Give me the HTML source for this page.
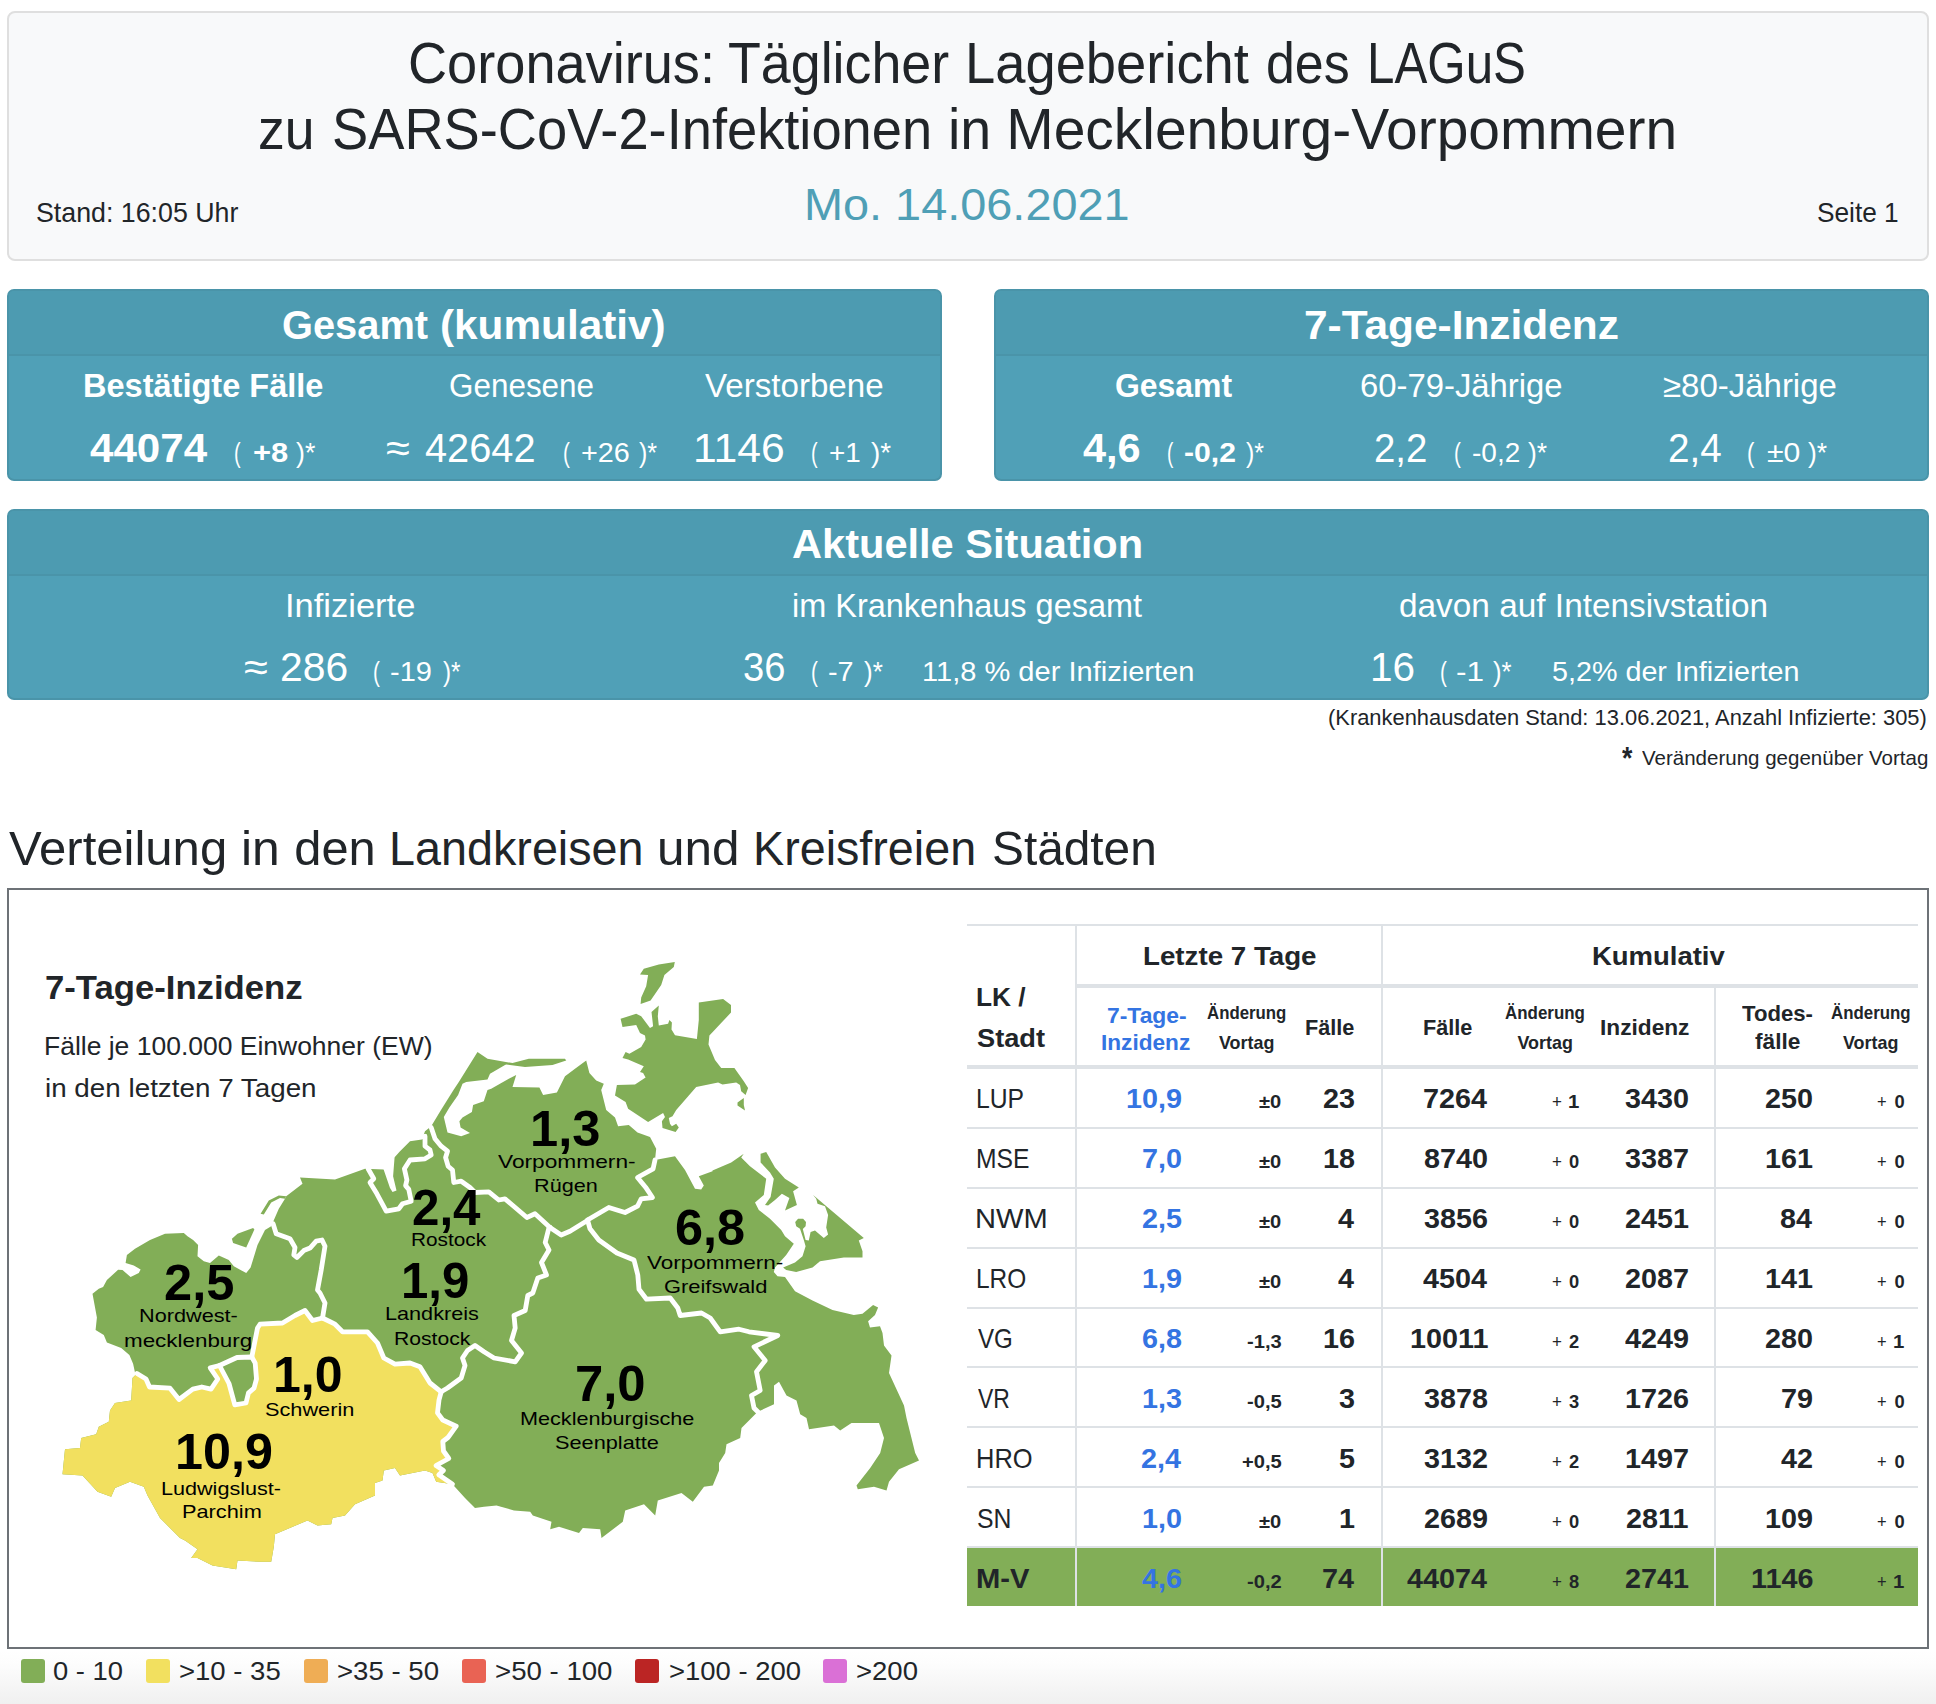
<!DOCTYPE html>
<html lang="de"><head><meta charset="utf-8"><title>Coronavirus: Täglicher Lagebericht des LAGuS</title>
<style>
html,body{margin:0;padding:0;}
body{width:1936px;height:1704px;position:relative;overflow:hidden;background:#fff;font-family:"Liberation Sans",sans-serif;}
.bg{position:absolute;left:0;top:1650px;width:1936px;height:54px;background:linear-gradient(#ffffff 0%,#fdfdfd 25%,#f0f0f0 100%);}
.b{position:absolute;}
.t{position:absolute;white-space:pre;line-height:1;transform-origin:0 0;}
.map{position:absolute;left:0;top:0;}
</style></head><body>
<div class="bg"></div>
<div class="b" style="left:7px;top:11px;width:1922px;height:250px;background:#f8f9fa;border:2px solid #dfdfdf;border-radius:8px;box-sizing:border-box;"></div>
<div class="b" style="left:7px;top:288.5px;width:935px;height:192.0px;background:#50a0b7;border:2px solid #4a94a9;border-radius:7px;box-sizing:border-box;overflow:hidden;"></div>
<div class="b" style="left:9px;top:290.5px;width:931px;height:65.5px;background:#4d9bb1;border-bottom:2px solid #4a94a9;border-radius:5px 5px 0 0;box-sizing:border-box;"></div>
<div class="b" style="left:993.5px;top:288.5px;width:935.5px;height:192.0px;background:#50a0b7;border:2px solid #4a94a9;border-radius:7px;box-sizing:border-box;overflow:hidden;"></div>
<div class="b" style="left:995.5px;top:290.5px;width:931.5px;height:65.5px;background:#4d9bb1;border-bottom:2px solid #4a94a9;border-radius:5px 5px 0 0;box-sizing:border-box;"></div>
<div class="b" style="left:7px;top:508.5px;width:1922px;height:191.0px;background:#50a0b7;border:2px solid #4a94a9;border-radius:7px;box-sizing:border-box;overflow:hidden;"></div>
<div class="b" style="left:9px;top:510.5px;width:1918px;height:65.0px;background:#4d9bb1;border-bottom:2px solid #4a94a9;border-radius:5px 5px 0 0;box-sizing:border-box;"></div>
<div class="b" style="left:7px;top:888px;width:1922px;height:760.5px;background:#fff;border:2px solid #6d7277;box-sizing:border-box;"></div>
<div class="b" style="left:967px;top:1547px;width:950.5px;height:58.5px;background:#82ae57;"></div>
<div class="b" style="left:967px;top:924px;width:950.5px;height:2px;background:#dee2e6;"></div>
<div class="b" style="left:1076px;top:984px;width:841.5px;height:4px;background:#dee2e6;"></div>
<div class="b" style="left:967px;top:1065px;width:950.5px;height:4px;background:#dee2e6;"></div>
<div class="b" style="left:967px;top:1126.5px;width:950.5px;height:2px;background:#dee2e6;"></div>
<div class="b" style="left:967px;top:1186.5px;width:950.5px;height:2px;background:#dee2e6;"></div>
<div class="b" style="left:967px;top:1246.5px;width:950.5px;height:2px;background:#dee2e6;"></div>
<div class="b" style="left:967px;top:1306.5px;width:950.5px;height:2px;background:#dee2e6;"></div>
<div class="b" style="left:967px;top:1366px;width:950.5px;height:2px;background:#dee2e6;"></div>
<div class="b" style="left:967px;top:1426px;width:950.5px;height:2px;background:#dee2e6;"></div>
<div class="b" style="left:967px;top:1486px;width:950.5px;height:2px;background:#dee2e6;"></div>
<div class="b" style="left:967px;top:1546px;width:950.5px;height:2px;background:#dee2e6;"></div>
<div class="b" style="left:1075px;top:925px;width:2px;height:680.5px;background:#dee2e6;"></div>
<div class="b" style="left:1381px;top:925px;width:2px;height:680.5px;background:#dee2e6;"></div>
<div class="b" style="left:1714px;top:986px;width:2px;height:619.5px;background:#dee2e6;"></div>
<div class="b" style="left:21.25px;top:1659px;width:24px;height:24px;background:#82ae57;border-radius:3px;"></div>
<div class="b" style="left:145.5px;top:1659px;width:24px;height:24px;background:#f2e05f;border-radius:3px;"></div>
<div class="b" style="left:303.75px;top:1659px;width:24px;height:24px;background:#efad55;border-radius:3px;"></div>
<div class="b" style="left:462px;top:1659px;width:24px;height:24px;background:#e96354;border-radius:3px;"></div>
<div class="b" style="left:635.25px;top:1659px;width:24px;height:24px;background:#bb2524;border-radius:3px;"></div>
<div class="b" style="left:822.75px;top:1659px;width:24px;height:24px;background:#da70d6;border-radius:3px;"></div>
<svg class="map" width="1936" height="1704" viewBox="0 0 1936 1704">
<polygon fill="#82ae57" points="135.0,1372.5 133.1,1363.8 129.4,1355.0 121.2,1348.1 106.9,1342.5 103.8,1335.0 95.6,1330.0 96.9,1317.5 92.5,1293.8 98.8,1288.8 103.1,1286.9 106.9,1280.0 118.1,1269.8 122.5,1270.0 130.6,1276.9 138.8,1273.1 140.6,1269.4 133.8,1265.6 125.6,1263.1 126.9,1255.0 135.0,1248.8 150.0,1240.0 165.0,1233.8 183.8,1233.1 187.5,1236.2 193.1,1240.0 198.1,1245.0 197.5,1256.2 203.8,1261.2 210.0,1263.1 218.8,1255.6 228.8,1260.0 233.8,1266.2 246.2,1273.1 250.6,1267.5 257.5,1245.0 265.0,1230.0 271.2,1226.2 278.8,1208.8 285.0,1198.8 286.2,1196.2 302.5,1183.8 300.0,1177.5 335.0,1179.4 365.0,1168.8 383.8,1169.4 394.4,1157.5 400.0,1151.2 410.0,1141.2 421.9,1139.4 425.0,1131.2 431.2,1126.2 441.0,1110.0 453.5,1090.0 458.8,1081.9 477.5,1051.9 487.5,1058.8 512.5,1063.1 528.8,1058.8 565.0,1058.8 566.2,1060.6 586.2,1060.6 589.4,1073.1 596.2,1080.6 603.8,1083.8 601.2,1090.0 606.2,1110.0 615.0,1117.5 618.1,1126.2 628.8,1125.0 637.5,1132.5 650.0,1136.9 656.2,1148.8 655.0,1160.0 675.0,1156.2 685.0,1170.0 695.0,1188.8 701.2,1189.4 703.8,1185.6 698.8,1176.2 712.5,1171.2 712.5,1170.6 731.2,1162.5 743.8,1153.8 741.2,1157.5 750.0,1166.2 766.2,1178.8 763.8,1195.0 755.0,1202.5 758.8,1210.0 770.0,1218.8 781.2,1230.0 785.0,1236.2 793.8,1243.8 786.2,1255.0 775.0,1267.5 773.8,1271.9 777.5,1276.2 785.0,1276.9 795.0,1291.2 812.5,1300.6 832.5,1310.0 853.8,1315.0 862.5,1313.8 873.1,1305.0 878.1,1307.5 875.0,1315.0 868.1,1321.2 870.0,1327.5 880.0,1326.2 882.5,1333.0 884.0,1345.5 891.5,1355.5 889.0,1373.0 904.0,1405.5 906.5,1418.0 915.2,1453.0 919.0,1460.5 899.0,1469.2 889.0,1481.8 886.5,1490.5 874.0,1486.8 857.8,1489.2 856.5,1485.5 870.2,1468.0 880.2,1453.0 884.0,1438.0 879.0,1423.0 851.5,1423.0 840.2,1430.5 834.0,1425.5 809.0,1429.2 806.5,1418.0 800.2,1414.2 796.5,1400.5 786.5,1395.5 779.0,1381.8 774.0,1385.5 774.0,1404.2 757.8,1411.8 755.2,1414.2 741.5,1428.0 740.2,1438.0 726.5,1444.2 725.2,1453.0 719.0,1463.0 719.0,1470.5 712.8,1485.5 704.0,1486.8 692.8,1501.8 681.5,1493.0 657.8,1500.5 655.2,1515.5 644.0,1504.2 625.2,1510.5 622.8,1521.8 601.5,1538.0 600.2,1529.2 582.8,1528.0 579.0,1533.0 559.0,1526.8 550.2,1529.2 551.5,1521.8 532.8,1515.5 530.2,1511.8 514.0,1510.5 496.5,1505.5 484.0,1506.8 475.0,1508.0 465.0,1498.0 452.5,1484.2 436.2,1481.8 432.5,1473.0 425.0,1470.5 400.0,1475.5 395.0,1468.0 383.8,1470.5 382.5,1480.5 375.0,1483.0 375.0,1495.5 355.0,1504.2 345.0,1515.5 332.5,1518.0 331.2,1524.2 317.5,1525.5 307.5,1520.5 275.0,1534.2 273.8,1546.8 271.2,1561.8 261.2,1561.8 237.5,1560.5 236.2,1569.2 212.5,1565.5 197.5,1558.0 191.2,1558.0 197.5,1549.2 185.0,1540.5 180.0,1538.0 160.0,1518.0 147.5,1495.5 143.8,1486.8 130.0,1481.8 115.0,1488.0 111.2,1496.8 97.5,1491.8 82.5,1475.5 62.5,1474.2 65.0,1449.2 80.0,1448.0 81.2,1438.0 96.2,1434.2 98.8,1426.8 108.8,1421.8 110.0,1410.5 115.0,1403.0 131.2,1400.5 132.5,1378.0 136.2,1374.2"/>
<polygon fill="#f2e05f" points="137.0,1373.5 146.0,1379.0 149.5,1387.0 170.0,1388.2 179.0,1399.5 192.8,1389.2 201.8,1387.0 211.0,1389.2 217.8,1379.0 210.2,1367.8 219.5,1365.5 229.0,1383.5 234.8,1404.8 246.0,1403.0 248.5,1392.8 254.0,1388.2 256.5,1379.0 255.2,1363.2 251.8,1357.0 257.5,1328.0 260.0,1324.2 282.5,1323.0 295.0,1315.5 305.0,1310.5 312.5,1320.5 322.5,1318.0 335.0,1324.2 342.5,1331.8 367.5,1331.8 377.5,1343.0 383.8,1358.0 395.0,1364.2 410.0,1363.0 420.0,1366.8 430.0,1383.0 441.2,1391.8 439.0,1400.0 437.5,1412.8 442.8,1420.0 456.2,1426.2 448.0,1437.5 442.8,1441.5 443.5,1451.0 448.8,1458.5 436.0,1465.5 443.5,1470.5 438.8,1474.8 450.0,1482.5 452.5,1484.2 436.2,1481.8 432.5,1473.0 425.0,1470.5 400.0,1475.5 395.0,1468.0 383.8,1470.5 382.5,1480.5 375.0,1483.0 375.0,1495.5 355.0,1504.2 345.0,1515.5 332.5,1518.0 331.2,1524.2 317.5,1525.5 307.5,1520.5 275.0,1534.2 273.8,1546.8 271.2,1561.8 261.2,1561.8 237.5,1560.5 236.2,1569.2 212.5,1565.5 197.5,1558.0 191.2,1558.0 197.5,1549.2 185.0,1540.5 180.0,1538.0 160.0,1518.0 147.5,1495.5 143.8,1486.8 130.0,1481.8 115.0,1488.0 111.2,1496.8 97.5,1491.8 82.5,1475.5 62.5,1474.2 65.0,1449.2 80.0,1448.0 81.2,1438.0 96.2,1434.2 98.8,1426.8 108.8,1421.8 110.0,1410.5 115.0,1403.0 131.2,1400.5 132.5,1378.0 136.2,1374.2"/>
<polygon fill="#fff" points="383.1,1168.1 390.0,1188.1 392.5,1191.9 396.5,1190.6 393.1,1176.2 394.6,1156.9 387.5,1163.1"/>
<polygon fill="#fff" points="443.8,1116.9 449.4,1107.5 458.1,1095.0 462.5,1083.8 466.2,1081.9 487.5,1079.4 490.0,1073.8 505.0,1065.0 506.2,1064.4 525.0,1066.9 552.5,1065.0 566.2,1060.6 566.2,1056.9 586.2,1056.9 586.2,1060.6 575.0,1068.8 565.0,1076.2 556.9,1092.5 543.1,1095.0 539.4,1087.5 512.5,1086.9 516.2,1075.0 508.8,1078.8 491.2,1088.8 487.5,1090.0 483.8,1101.2 473.1,1105.0 471.9,1111.9 462.5,1117.5 459.4,1121.2 460.6,1127.5 470.0,1133.1 461.2,1136.2 447.5,1132.5"/>
<polygon fill="#82ae57" points="231.9,1238.8 237.5,1233.8 253.1,1228.1 254.4,1229.4 246.2,1247.5 233.1,1243.1"/>
<polygon fill="#82ae57" points="260.6,1213.8 268.8,1200.6 278.8,1195.6 286.2,1196.2 285.0,1198.8 280.0,1198.1 271.2,1202.5 263.8,1214.4"/>
<polygon fill="#82ae57" points="640.0,974.4 643.8,968.8 658.8,964.4 674.8,961.9 673.8,966.9 664.4,975.0 661.2,985.0 650.6,1000.6 640.6,1004.0 641.2,997.5 646.2,986.2 648.1,975.0"/>
<polygon fill="#82ae57" points="620.6,1018.8 636.2,1013.8 641.2,1016.2 650.0,1028.1 653.1,1026.2 651.5,1011.9 658.8,1005.6 657.8,1016.2 658.8,1025.6 668.1,1023.8 669.4,1020.0 671.9,1022.5 671.5,1029.4 675.0,1035.2 696.9,1039.0 698.8,1020.0 698.8,1002.5 723.1,999.0 731.0,1005.0 731.0,1012.5 709.4,1035.6 708.5,1044.4 715.0,1060.0 721.2,1068.1 734.4,1068.1 743.8,1081.2 748.1,1088.1 745.6,1095.0 741.2,1091.2 740.0,1085.0 736.2,1082.5 722.5,1084.4 718.1,1082.5 696.2,1086.9 676.2,1110.0 672.5,1116.2 668.8,1118.1 670.0,1123.8 671.9,1126.2 676.2,1123.8 678.8,1127.5 675.6,1131.9 662.5,1128.1 661.9,1121.2 665.0,1116.9 663.1,1113.1 648.1,1121.9 628.1,1108.8 625.6,1101.9 615.0,1095.6 616.9,1085.0 635.0,1084.4 645.6,1077.5 643.1,1073.1 640.0,1071.9 643.8,1066.2 628.1,1059.4 622.5,1058.1 625.6,1051.9 629.4,1053.8 641.2,1046.9 645.6,1039.4 645.0,1035.6 640.0,1033.1 636.2,1025.0 622.5,1026.9"/>
<polygon fill="#82ae57" points="737.5,1102.5 743.8,1098.1 743.8,1105.0 745.0,1110.6 737.5,1105.6"/>
<polygon fill="#82ae57" points="760.6,1153.8 766.2,1151.9 775.0,1167.5 785.0,1178.8 798.8,1187.5 793.1,1191.2 796.9,1205.0 785.0,1210.6 789.4,1198.1 781.9,1193.8 775.0,1200.0 768.1,1205.6 765.0,1205.0 770.6,1196.9 773.8,1178.8 770.0,1172.5 760.6,1162.5"/>
<polygon fill="#82ae57" points="813.1,1195.0 863.8,1238.1 858.8,1240.6 862.5,1251.2 862.5,1257.5 843.8,1257.5 820.0,1261.2 812.5,1267.5 796.2,1271.9 786.2,1270.0 783.1,1267.5 795.0,1262.5 802.5,1256.2 805.6,1246.2 803.8,1240.0 800.0,1228.8 796.2,1226.2 795.2,1221.9 798.1,1218.8 803.1,1218.8 806.0,1221.9 805.6,1226.2 802.8,1229.0 805.6,1240.0 808.8,1240.6 810.6,1231.9 815.0,1230.6 823.8,1238.1 828.1,1234.4 826.2,1227.5 828.1,1215.0 825.0,1206.2 817.5,1203.8 816.2,1198.8"/>
<polyline fill="none" stroke="#fff" stroke-width="4.8" stroke-linejoin="round" stroke-linecap="round" points="137.0,1373.5 146.0,1379.0 149.5,1387.0 170.0,1388.2 179.0,1399.5 192.8,1389.2 201.8,1387.0 211.0,1389.2 217.8,1379.0 210.2,1367.8 219.5,1365.5"/>
<polyline fill="none" stroke="#fff" stroke-width="4.8" stroke-linejoin="round" stroke-linecap="round" points="219.5,1365.5 237.0,1357.5 251.8,1357.0 255.2,1363.2 256.5,1379.0 254.0,1388.2 248.5,1392.8 246.0,1403.0 234.8,1404.8 229.0,1383.5 219.5,1365.5"/>
<polyline fill="none" stroke="#fff" stroke-width="4.8" stroke-linejoin="round" stroke-linecap="round" points="251.8,1357.0 257.5,1328.0 260.0,1324.2 282.5,1323.0 295.0,1315.5 305.0,1310.5 312.5,1320.5 322.5,1318.0"/>
<polyline fill="none" stroke="#fff" stroke-width="4.8" stroke-linejoin="round" stroke-linecap="round" points="322.5,1318.0 335.0,1324.2 342.5,1331.8 367.5,1331.8 377.5,1343.0 383.8,1358.0 395.0,1364.2 410.0,1363.0 420.0,1366.8 430.0,1383.0 441.2,1391.8"/>
<polyline fill="none" stroke="#fff" stroke-width="4.8" stroke-linejoin="round" stroke-linecap="round" points="441.2,1391.8 439.0,1400.0 437.5,1412.8 442.8,1420.0 456.2,1426.2 448.0,1437.5 442.8,1441.5 443.5,1451.0 448.8,1458.5 436.0,1465.5 443.5,1470.5 438.8,1474.8 450.0,1482.5 452.5,1484.2"/>
<polyline fill="none" stroke="#fff" stroke-width="4.8" stroke-linejoin="round" stroke-linecap="round" points="273.1,1223.8 276.2,1233.8 290.0,1238.8 295.0,1247.5 293.8,1255.0 296.9,1257.5 303.8,1250.6 310.0,1248.1 316.2,1241.2 322.0,1240.0 325.0,1246.2 321.2,1270.0 317.5,1290.0 320.0,1293.0 325.0,1303.0 322.5,1318.0"/>
<polyline fill="none" stroke="#fff" stroke-width="4.8" stroke-linejoin="round" stroke-linecap="round" points="441.2,1391.8 447.5,1388.0 461.2,1378.0 465.0,1365.5 462.5,1358.0 467.5,1350.5 475.0,1345.5 484.0,1351.8 494.0,1358.0 515.2,1361.8 521.5,1353.0 511.5,1340.5 515.2,1328.0 514.0,1315.5 525.2,1310.5 527.8,1295.5 532.8,1293.0 537.8,1278.0 546.5,1275.0 541.5,1262.5 549.0,1250.0 545.2,1242.5 549.0,1227.5 550.0,1227.5"/>
<polyline fill="none" stroke="#fff" stroke-width="4.8" stroke-linejoin="round" stroke-linecap="round" points="431.2,1127.5 435.0,1138.8 441.2,1146.2 447.5,1151.2 445.6,1157.5 448.1,1166.2 452.5,1170.0 453.8,1182.5 461.2,1181.2 470.0,1187.5 475.0,1192.5 488.8,1191.9 498.8,1200.0 505.0,1198.8 526.9,1217.5 535.0,1213.8 550.0,1227.5"/>
<polyline fill="none" stroke="#fff" stroke-width="4.8" stroke-linejoin="round" stroke-linecap="round" points="550.0,1227.5 561.2,1235.0 570.0,1231.2 586.2,1221.2"/>
<polyline fill="none" stroke="#fff" stroke-width="4.8" stroke-linejoin="round" stroke-linecap="round" points="655.0,1160.0 653.1,1168.8 637.5,1177.5 646.2,1188.1 652.5,1197.5 641.2,1198.8 637.5,1206.2 625.0,1212.5 608.8,1207.5 587.5,1220.0"/>
<polyline fill="none" stroke="#fff" stroke-width="4.8" stroke-linejoin="round" stroke-linecap="round" points="587.5,1220.0 590.0,1228.8 598.8,1240.0 616.9,1253.0 634.0,1260.0 637.8,1275.0 639.0,1289.2 646.5,1299.2 670.2,1298.0 677.8,1308.0 680.2,1315.5 701.5,1313.0 710.2,1318.0 720.2,1331.8 739.0,1329.2 749.0,1331.8 777.8,1335.5 754.0,1346.8 765.2,1360.5 756.5,1371.8 760.2,1390.5 751.5,1395.5 754.0,1408.0 757.8,1411.8"/>
<polyline fill="none" stroke="#fff" stroke-width="4.8" stroke-linejoin="round" stroke-linecap="round" points="368.1,1168.8 373.8,1178.8 370.0,1182.5 376.9,1193.8 386.2,1211.2 398.8,1208.8 402.5,1203.8 411.2,1201.2 408.8,1189.4 405.6,1185.6 406.9,1180.0 404.4,1168.8 410.0,1160.0 425.0,1158.8 431.2,1155.0 430.0,1150.0 425.0,1146.2 425.0,1136.2 422.5,1136.9"/>
</svg>
<span class="t" style="left:408.10px;top:35.29px;font-size:56.95px;color:#212529;transform:scaleX(0.9511);">Coronavirus: </span>
<span class="t" style="left:727.81px;top:35.29px;font-size:56.95px;color:#212529;transform:scaleX(0.9444);">Täglicher </span>
<span class="t" style="left:965.18px;top:35.29px;font-size:56.95px;color:#212529;transform:scaleX(0.9541);">Lagebericht </span>
<span class="t" style="left:1266.18px;top:35.29px;font-size:56.95px;color:#212529;transform:scaleX(0.9113);">des </span>
<span class="t" style="left:1367.04px;top:35.29px;font-size:56.95px;color:#212529;transform:scaleX(0.8657);">LAGuS</span>
<span class="t" style="left:258.12px;top:101.29px;font-size:56.95px;color:#212529;transform:scaleX(0.9409);">zu </span>
<span class="t" style="left:331.84px;top:101.29px;font-size:56.95px;color:#212529;transform:scaleX(0.9529);">SARS-CoV-2-Infektionen </span>
<span class="t" style="left:948.07px;top:101.29px;font-size:56.95px;color:#212529;transform:scaleX(0.9761);">in </span>
<span class="t" style="left:1006.25px;top:101.29px;font-size:56.95px;color:#212529;">Mecklenburg-Vorpommern</span>
<span class="t" style="left:804.36px;top:182.12px;font-size:44.75px;color:#4f9fb6;transform:scaleX(1.0470);">Mo. 14.06.2021</span>
<span class="t" style="left:36.06px;top:197.89px;font-size:28.48px;color:#212529;transform:scaleX(0.9403);">Stand: 16:05 Uhr</span>
<span class="t" style="left:1817.08px;top:197.89px;font-size:28.48px;color:#212529;transform:scaleX(0.9217);">Seite 1</span>
<span class="t" style="left:281.52px;top:305.06px;font-size:40.68px;color:#ffffff;font-weight:700;transform:scaleX(0.9787);">Gesamt </span>
<span class="t" style="left:440.42px;top:305.06px;font-size:40.68px;color:#ffffff;font-weight:700;transform:scaleX(1.0403);">(kumulativ)</span>
<span class="t" style="left:83.00px;top:370.45px;font-size:32.54px;color:#ffffff;font-weight:700;">Bestätigte Fälle</span>
<span class="t" style="left:449.03px;top:370.45px;font-size:32.54px;color:#ffffff;transform:scaleX(0.9660);">Genesene</span>
<span class="t" style="left:704.50px;top:370.45px;font-size:32.54px;color:#ffffff;transform:scaleX(1.0182);">Verstorbene</span>
<span class="t" style="left:89.50px;top:428.06px;font-size:40.68px;color:#ffffff;font-weight:700;transform:scaleX(1.0354);">44074</span>
<span class="t" style="left:234.31px;top:438.39px;font-size:28.48px;color:#ffffff;transform:scaleX(0.6944);">(</span>
<span class="t" style="left:252.66px;top:438.39px;font-size:28.48px;color:#ffffff;font-weight:700;transform:scaleX(1.0857);">+8</span>
<span class="t" style="left:296.25px;top:438.39px;font-size:28.48px;color:#ffffff;transform:scaleX(0.9399);">)*</span>
<span class="t" style="left:386.43px;top:428.06px;font-size:40.68px;color:#ffffff;transform:scaleX(1.0714);">≈</span>
<span class="t" style="left:425.00px;top:428.06px;font-size:40.68px;color:#ffffff;transform:scaleX(0.9778);">42642</span>
<span class="t" style="left:562.78px;top:438.39px;font-size:28.48px;color:#ffffff;transform:scaleX(0.7222);">(</span>
<span class="t" style="left:580.99px;top:438.39px;font-size:28.48px;color:#ffffff;transform:scaleX(1.0117);">+26</span>
<span class="t" style="left:639.00px;top:438.39px;font-size:28.48px;color:#ffffff;transform:scaleX(0.8789);">)*</span>
<span class="t" style="left:693.35px;top:428.06px;font-size:40.68px;color:#ffffff;transform:scaleX(1.0502);">1146</span>
<span class="t" style="left:810.81px;top:438.39px;font-size:28.48px;color:#ffffff;transform:scaleX(0.6944);">(</span>
<span class="t" style="left:829.02px;top:438.39px;font-size:28.48px;color:#ffffff;transform:scaleX(0.9796);">+1</span>
<span class="t" style="left:871.00px;top:438.39px;font-size:28.48px;color:#ffffff;transform:scaleX(0.9765);">)*</span>
<span class="t" style="left:1304.46px;top:305.06px;font-size:40.68px;color:#ffffff;font-weight:700;transform:scaleX(1.0427);">7-Tage-Inzidenz</span>
<span class="t" style="left:1114.52px;top:370.45px;font-size:32.54px;color:#ffffff;font-weight:700;transform:scaleX(0.9810);">Gesamt</span>
<span class="t" style="left:1359.99px;top:370.45px;font-size:32.54px;color:#ffffff;transform:scaleX(1.0094);">60-79-Jährige</span>
<span class="t" style="left:1662.99px;top:370.45px;font-size:32.54px;color:#ffffff;transform:scaleX(1.0134);">≥80-Jährige</span>
<span class="t" style="left:1083.00px;top:428.06px;font-size:40.68px;color:#ffffff;font-weight:700;transform:scaleX(1.0193);">4,6</span>
<span class="t" style="left:1166.83px;top:438.39px;font-size:28.48px;color:#ffffff;transform:scaleX(0.6667);">(</span>
<span class="t" style="left:1183.94px;top:438.39px;font-size:28.48px;color:#ffffff;font-weight:700;transform:scaleX(1.0588);">-0,2</span>
<span class="t" style="left:1245.50px;top:438.39px;font-size:28.48px;color:#ffffff;transform:scaleX(0.8789);">)*</span>
<span class="t" style="left:1373.61px;top:428.06px;font-size:40.68px;color:#ffffff;transform:scaleX(0.9448);">2,2</span>
<span class="t" style="left:1453.78px;top:438.39px;font-size:28.48px;color:#ffffff;transform:scaleX(0.7222);">(</span>
<span class="t" style="left:1472.02px;top:438.39px;font-size:28.48px;color:#ffffff;transform:scaleX(0.9847);">-0,2</span>
<span class="t" style="left:1528.00px;top:438.39px;font-size:28.48px;color:#ffffff;transform:scaleX(0.9277);">)*</span>
<span class="t" style="left:1667.60px;top:428.06px;font-size:40.68px;color:#ffffff;transform:scaleX(0.9505);">2,4</span>
<span class="t" style="left:1747.22px;top:438.39px;font-size:28.48px;color:#ffffff;transform:scaleX(0.7778);">(</span>
<span class="t" style="left:1767.00px;top:438.39px;font-size:28.48px;color:#ffffff;transform:scaleX(1.0612);">±0</span>
<span class="t" style="left:1808.00px;top:438.39px;font-size:28.48px;color:#ffffff;transform:scaleX(0.9277);">)*</span>
<span class="t" style="left:792.48px;top:524.31px;font-size:40.68px;color:#ffffff;font-weight:700;transform:scaleX(1.0223);">Aktuelle Situation</span>
<span class="t" style="left:284.82px;top:589.95px;font-size:32.54px;color:#ffffff;transform:scaleX(1.0601);">Infizierte</span>
<span class="t" style="left:792.00px;top:589.95px;font-size:32.54px;color:#ffffff;transform:scaleX(0.9978);">im Krankenhaus gesamt</span>
<span class="t" style="left:1399.47px;top:589.95px;font-size:32.54px;color:#ffffff;transform:scaleX(1.0258);">davon auf Intensivstation</span>
<span class="t" style="left:243.93px;top:646.56px;font-size:40.68px;color:#ffffff;transform:scaleX(1.0714);">≈</span>
<span class="t" style="left:280.49px;top:646.56px;font-size:40.68px;color:#ffffff;transform:scaleX(1.0041);">286</span>
<span class="t" style="left:373.28px;top:656.89px;font-size:28.48px;color:#ffffff;transform:scaleX(0.7222);">(</span>
<span class="t" style="left:389.98px;top:656.89px;font-size:28.48px;color:#ffffff;transform:scaleX(1.0175);">-19</span>
<span class="t" style="left:442.50px;top:656.89px;font-size:28.48px;color:#ffffff;transform:scaleX(0.8545);">)*</span>
<span class="t" style="left:743.06px;top:646.56px;font-size:40.68px;color:#ffffff;transform:scaleX(0.9385);">36</span>
<span class="t" style="left:811.28px;top:656.89px;font-size:28.48px;color:#ffffff;transform:scaleX(0.7222);">(</span>
<span class="t" style="left:827.99px;top:656.89px;font-size:28.48px;color:#ffffff;transform:scaleX(1.0115);">-7</span>
<span class="t" style="left:864.00px;top:656.89px;font-size:28.48px;color:#ffffff;transform:scaleX(0.9155);">)*</span>
<span class="t" style="left:922.46px;top:656.89px;font-size:28.48px;color:#ffffff;transform:scaleX(1.0206);">11,8 % der Infizierten</span>
<span class="t" style="left:1369.51px;top:646.56px;font-size:40.68px;color:#ffffff;transform:scaleX(0.9971);">16</span>
<span class="t" style="left:1439.78px;top:656.89px;font-size:28.48px;color:#ffffff;transform:scaleX(0.7222);">(</span>
<span class="t" style="left:1455.89px;top:656.89px;font-size:28.48px;color:#ffffff;transform:scaleX(1.1073);">-1</span>
<span class="t" style="left:1493.00px;top:656.89px;font-size:28.48px;color:#ffffff;transform:scaleX(0.9033);">)*</span>
<span class="t" style="left:1551.99px;top:656.89px;font-size:28.48px;color:#ffffff;transform:scaleX(1.0085);">5,2% der Infizierten</span>
<span class="t" style="left:1327.54px;top:706.22px;font-size:22.78px;color:#212529;transform:scaleX(0.9616);">(Krankenhausdaten Stand: 13.06.2021, Anzahl Infizierte: 305)</span>
<span class="t" style="left:1622.00px;top:743.17px;font-size:30.51px;color:#212529;font-weight:700;transform:scaleX(0.8750);">*</span>
<span class="t" style="left:1642.00px;top:747.78px;font-size:20.34px;color:#212529;transform:scaleX(1.0092);">Veränderung gegenüber Vortag</span>
<span class="t" style="left:8.75px;top:823.67px;font-size:48.82px;color:#212529;transform:scaleX(1.0049);">Verteilung </span>
<span class="t" style="left:240.69px;top:823.67px;font-size:48.82px;color:#212529;transform:scaleX(1.0206);">in </span>
<span class="t" style="left:294.25px;top:823.67px;font-size:48.82px;color:#212529;">den </span>
<span class="t" style="left:388.67px;top:823.67px;font-size:48.82px;color:#212529;transform:scaleX(0.9573);">Landkreisen </span>
<span class="t" style="left:656.71px;top:823.67px;font-size:48.82px;color:#212529;transform:scaleX(1.0127);">und </span>
<span class="t" style="left:753.43px;top:823.67px;font-size:48.82px;color:#212529;transform:scaleX(0.9562);">Kreisfreien </span>
<span class="t" style="left:991.79px;top:823.67px;font-size:48.82px;color:#212529;transform:scaleX(0.9793);">Städten</span>
<span class="t" style="left:45.18px;top:972.45px;font-size:32.54px;color:#212529;font-weight:700;transform:scaleX(1.0663);">7-Tage-Inzidenz</span>
<span class="t" style="left:44.12px;top:1034.41px;font-size:24.92px;color:#212529;transform:scaleX(1.0630);">Fälle je 100.000 Einwohner (EW)</span>
<span class="t" style="left:45.13px;top:1075.91px;font-size:24.92px;color:#212529;transform:scaleX(1.1164);">in den letzten 7 Tagen</span>
<span class="t" style="left:975.76px;top:983.62px;font-size:26.44px;color:#212529;font-weight:700;transform:scaleX(0.9932);">LK /</span>
<span class="t" style="left:976.75px;top:1024.62px;font-size:26.44px;color:#212529;font-weight:700;transform:scaleX(1.0296);">Stadt</span>
<span class="t" style="left:1142.70px;top:943.12px;font-size:26.44px;color:#212529;font-weight:700;transform:scaleX(1.0484);">Letzte 7 Tage</span>
<span class="t" style="left:1591.96px;top:943.12px;font-size:26.44px;color:#212529;font-weight:700;transform:scaleX(1.0386);">Kumulativ</span>
<span class="t" style="left:1106.75px;top:1004.81px;font-size:22.37px;color:#3474e2;font-weight:700;transform:scaleX(1.0238);">7-Tage-</span>
<span class="t" style="left:1101.49px;top:1032.06px;font-size:22.37px;color:#3474e2;font-weight:700;transform:scaleX(1.0113);">Inzidenz</span>
<span class="t" style="left:1207.00px;top:1004.85px;font-size:17.9px;color:#212529;font-weight:700;transform:scaleX(0.9396);">Änderung</span>
<span class="t" style="left:1219.00px;top:1034.85px;font-size:17.9px;color:#212529;font-weight:700;">Vortag</span>
<span class="t" style="left:1505.00px;top:1004.85px;font-size:17.9px;color:#212529;font-weight:700;transform:scaleX(0.9456);">Änderung</span>
<span class="t" style="left:1517.50px;top:1034.85px;font-size:17.9px;color:#212529;font-weight:700;">Vortag</span>
<span class="t" style="left:1830.75px;top:1004.85px;font-size:17.9px;color:#212529;font-weight:700;transform:scaleX(0.9426);">Änderung</span>
<span class="t" style="left:1843.00px;top:1034.85px;font-size:17.9px;color:#212529;font-weight:700;">Vortag</span>
<span class="t" style="left:1305.03px;top:1016.56px;font-size:22.37px;color:#212529;font-weight:700;transform:scaleX(0.9694);">Fälle</span>
<span class="t" style="left:1423.03px;top:1016.56px;font-size:22.37px;color:#212529;font-weight:700;transform:scaleX(0.9694);">Fälle</span>
<span class="t" style="left:1599.74px;top:1016.56px;font-size:22.37px;color:#212529;font-weight:700;transform:scaleX(1.0142);">Inzidenz</span>
<span class="t" style="left:1742.00px;top:1003.06px;font-size:22.37px;color:#212529;font-weight:700;transform:scaleX(0.9904);">Todes-</span>
<span class="t" style="left:1754.50px;top:1030.56px;font-size:22.37px;color:#212529;font-weight:700;transform:scaleX(1.0157);">fälle</span>
<span class="t" style="left:975.71px;top:1085.34px;font-size:27.66px;color:#212529;transform:scaleX(0.8937);">LUP</span>
<span class="t" style="left:1126.42px;top:1085.34px;font-size:27.66px;color:#3474e2;font-weight:700;transform:scaleX(1.0400);">10,9</span>
<span class="t" style="left:1259.20px;top:1093.25px;font-size:18.31px;color:#212529;font-weight:700;transform:scaleX(1.1000);">±0</span>
<span class="t" style="left:1323.40px;top:1085.34px;font-size:27.66px;color:#212529;font-weight:700;transform:scaleX(1.0400);">23</span>
<span class="t" style="left:1422.87px;top:1085.34px;font-size:27.66px;color:#212529;font-weight:700;transform:scaleX(1.0400);">7264</span>
<span class="t" style="left:1551.50px;top:1093.25px;font-size:18.31px;color:#212529;transform:scaleX(0.9250);">+</span>
<span class="t" style="left:1567.89px;top:1093.25px;font-size:18.31px;color:#212529;font-weight:700;transform:scaleX(1.1111);">1</span>
<span class="t" style="left:1624.66px;top:1085.34px;font-size:27.66px;color:#212529;font-weight:700;transform:scaleX(1.0400);">3430</span>
<span class="t" style="left:1765.16px;top:1085.34px;font-size:27.66px;color:#212529;font-weight:700;transform:scaleX(1.0400);">250</span>
<span class="t" style="left:1877.00px;top:1093.25px;font-size:18.31px;color:#212529;transform:scaleX(0.9000);">+</span>
<span class="t" style="left:1894.50px;top:1093.25px;font-size:18.31px;color:#212529;font-weight:700;">0</span>
<span class="t" style="left:975.72px;top:1145.34px;font-size:27.66px;color:#212529;transform:scaleX(0.8915);">MSE</span>
<span class="t" style="left:1142.41px;top:1145.34px;font-size:27.66px;color:#3474e2;font-weight:700;transform:scaleX(1.0400);">7,0</span>
<span class="t" style="left:1259.20px;top:1153.25px;font-size:18.31px;color:#212529;font-weight:700;transform:scaleX(1.1000);">±0</span>
<span class="t" style="left:1323.40px;top:1145.34px;font-size:27.66px;color:#212529;font-weight:700;transform:scaleX(1.0400);">18</span>
<span class="t" style="left:1423.91px;top:1145.34px;font-size:27.66px;color:#212529;font-weight:700;transform:scaleX(1.0400);">8740</span>
<span class="t" style="left:1551.50px;top:1153.25px;font-size:18.31px;color:#212529;transform:scaleX(0.9250);">+</span>
<span class="t" style="left:1569.00px;top:1153.25px;font-size:18.31px;color:#212529;font-weight:700;">0</span>
<span class="t" style="left:1624.66px;top:1145.34px;font-size:27.66px;color:#212529;font-weight:700;transform:scaleX(1.0400);">3387</span>
<span class="t" style="left:1765.16px;top:1145.34px;font-size:27.66px;color:#212529;font-weight:700;transform:scaleX(1.0400);">161</span>
<span class="t" style="left:1877.00px;top:1153.25px;font-size:18.31px;color:#212529;transform:scaleX(0.9000);">+</span>
<span class="t" style="left:1894.50px;top:1153.25px;font-size:18.31px;color:#212529;font-weight:700;">0</span>
<span class="t" style="left:975.39px;top:1205.34px;font-size:27.66px;color:#212529;transform:scaleX(1.0526);">NWM</span>
<span class="t" style="left:1142.41px;top:1205.34px;font-size:27.66px;color:#3474e2;font-weight:700;transform:scaleX(1.0400);">2,5</span>
<span class="t" style="left:1259.20px;top:1213.25px;font-size:18.31px;color:#212529;font-weight:700;transform:scaleX(1.1000);">±0</span>
<span class="t" style="left:1338.36px;top:1205.34px;font-size:27.66px;color:#212529;font-weight:700;transform:scaleX(1.0400);">4</span>
<span class="t" style="left:1423.91px;top:1205.34px;font-size:27.66px;color:#212529;font-weight:700;transform:scaleX(1.0400);">3856</span>
<span class="t" style="left:1551.50px;top:1213.25px;font-size:18.31px;color:#212529;transform:scaleX(0.9250);">+</span>
<span class="t" style="left:1569.00px;top:1213.25px;font-size:18.31px;color:#212529;font-weight:700;">0</span>
<span class="t" style="left:1624.66px;top:1205.34px;font-size:27.66px;color:#212529;font-weight:700;transform:scaleX(1.0400);">2451</span>
<span class="t" style="left:1780.11px;top:1205.34px;font-size:27.66px;color:#212529;font-weight:700;transform:scaleX(1.0400);">84</span>
<span class="t" style="left:1877.00px;top:1213.25px;font-size:18.31px;color:#212529;transform:scaleX(0.9000);">+</span>
<span class="t" style="left:1894.50px;top:1213.25px;font-size:18.31px;color:#212529;font-weight:700;">0</span>
<span class="t" style="left:975.73px;top:1265.34px;font-size:27.66px;color:#212529;transform:scaleX(0.8831);">LRO</span>
<span class="t" style="left:1142.41px;top:1265.34px;font-size:27.66px;color:#3474e2;font-weight:700;transform:scaleX(1.0400);">1,9</span>
<span class="t" style="left:1259.20px;top:1273.25px;font-size:18.31px;color:#212529;font-weight:700;transform:scaleX(1.1000);">±0</span>
<span class="t" style="left:1338.36px;top:1265.34px;font-size:27.66px;color:#212529;font-weight:700;transform:scaleX(1.0400);">4</span>
<span class="t" style="left:1422.87px;top:1265.34px;font-size:27.66px;color:#212529;font-weight:700;transform:scaleX(1.0400);">4504</span>
<span class="t" style="left:1551.50px;top:1273.25px;font-size:18.31px;color:#212529;transform:scaleX(0.9250);">+</span>
<span class="t" style="left:1569.00px;top:1273.25px;font-size:18.31px;color:#212529;font-weight:700;">0</span>
<span class="t" style="left:1624.66px;top:1265.34px;font-size:27.66px;color:#212529;font-weight:700;transform:scaleX(1.0400);">2087</span>
<span class="t" style="left:1765.16px;top:1265.34px;font-size:27.66px;color:#212529;font-weight:700;transform:scaleX(1.0400);">141</span>
<span class="t" style="left:1877.00px;top:1273.25px;font-size:18.31px;color:#212529;transform:scaleX(0.9000);">+</span>
<span class="t" style="left:1894.50px;top:1273.25px;font-size:18.31px;color:#212529;font-weight:700;">0</span>
<span class="t" style="left:977.50px;top:1325.34px;font-size:27.66px;color:#212529;transform:scaleX(0.8713);">VG</span>
<span class="t" style="left:1142.41px;top:1325.34px;font-size:27.66px;color:#3474e2;font-weight:700;transform:scaleX(1.0400);">6,8</span>
<span class="t" style="left:1246.76px;top:1333.25px;font-size:18.31px;color:#212529;font-weight:700;transform:scaleX(1.1000);">-1,3</span>
<span class="t" style="left:1323.40px;top:1325.34px;font-size:27.66px;color:#212529;font-weight:700;transform:scaleX(1.0400);">16</span>
<span class="t" style="left:1409.50px;top:1325.34px;font-size:27.66px;color:#212529;font-weight:700;transform:scaleX(1.0400);">10011</span>
<span class="t" style="left:1551.50px;top:1333.25px;font-size:18.31px;color:#212529;transform:scaleX(0.9250);">+</span>
<span class="t" style="left:1569.00px;top:1333.25px;font-size:18.31px;color:#212529;font-weight:700;">2</span>
<span class="t" style="left:1624.66px;top:1325.34px;font-size:27.66px;color:#212529;font-weight:700;transform:scaleX(1.0400);">4249</span>
<span class="t" style="left:1765.16px;top:1325.34px;font-size:27.66px;color:#212529;font-weight:700;transform:scaleX(1.0400);">280</span>
<span class="t" style="left:1877.00px;top:1333.25px;font-size:18.31px;color:#212529;transform:scaleX(0.9000);">+</span>
<span class="t" style="left:1893.39px;top:1333.25px;font-size:18.31px;color:#212529;font-weight:700;transform:scaleX(1.1111);">1</span>
<span class="t" style="left:977.50px;top:1385.34px;font-size:27.66px;color:#212529;transform:scaleX(0.8278);">VR</span>
<span class="t" style="left:1142.41px;top:1385.34px;font-size:27.66px;color:#3474e2;font-weight:700;transform:scaleX(1.0400);">1,3</span>
<span class="t" style="left:1246.76px;top:1393.25px;font-size:18.31px;color:#212529;font-weight:700;transform:scaleX(1.1000);">-0,5</span>
<span class="t" style="left:1339.40px;top:1385.34px;font-size:27.66px;color:#212529;font-weight:700;transform:scaleX(1.0400);">3</span>
<span class="t" style="left:1423.91px;top:1385.34px;font-size:27.66px;color:#212529;font-weight:700;transform:scaleX(1.0400);">3878</span>
<span class="t" style="left:1551.50px;top:1393.25px;font-size:18.31px;color:#212529;transform:scaleX(0.9250);">+</span>
<span class="t" style="left:1569.00px;top:1393.25px;font-size:18.31px;color:#212529;font-weight:700;">3</span>
<span class="t" style="left:1624.66px;top:1385.34px;font-size:27.66px;color:#212529;font-weight:700;transform:scaleX(1.0400);">1726</span>
<span class="t" style="left:1781.15px;top:1385.34px;font-size:27.66px;color:#212529;font-weight:700;transform:scaleX(1.0400);">79</span>
<span class="t" style="left:1877.00px;top:1393.25px;font-size:18.31px;color:#212529;transform:scaleX(0.9000);">+</span>
<span class="t" style="left:1894.50px;top:1393.25px;font-size:18.31px;color:#212529;font-weight:700;">0</span>
<span class="t" style="left:975.66px;top:1445.34px;font-size:27.66px;color:#212529;transform:scaleX(0.9204);">HRO</span>
<span class="t" style="left:1141.37px;top:1445.34px;font-size:27.66px;color:#3474e2;font-weight:700;transform:scaleX(1.0400);">2,4</span>
<span class="t" style="left:1241.71px;top:1453.25px;font-size:18.31px;color:#212529;font-weight:700;transform:scaleX(1.1000);">+0,5</span>
<span class="t" style="left:1339.40px;top:1445.34px;font-size:27.66px;color:#212529;font-weight:700;transform:scaleX(1.0400);">5</span>
<span class="t" style="left:1423.91px;top:1445.34px;font-size:27.66px;color:#212529;font-weight:700;transform:scaleX(1.0400);">3132</span>
<span class="t" style="left:1551.50px;top:1453.25px;font-size:18.31px;color:#212529;transform:scaleX(0.9250);">+</span>
<span class="t" style="left:1569.00px;top:1453.25px;font-size:18.31px;color:#212529;font-weight:700;">2</span>
<span class="t" style="left:1624.66px;top:1445.34px;font-size:27.66px;color:#212529;font-weight:700;transform:scaleX(1.0400);">1497</span>
<span class="t" style="left:1781.15px;top:1445.34px;font-size:27.66px;color:#212529;font-weight:700;transform:scaleX(1.0400);">42</span>
<span class="t" style="left:1877.00px;top:1453.25px;font-size:18.31px;color:#212529;transform:scaleX(0.9000);">+</span>
<span class="t" style="left:1894.50px;top:1453.25px;font-size:18.31px;color:#212529;font-weight:700;">0</span>
<span class="t" style="left:976.60px;top:1505.34px;font-size:27.66px;color:#212529;transform:scaleX(0.8957);">SN</span>
<span class="t" style="left:1142.41px;top:1505.34px;font-size:27.66px;color:#3474e2;font-weight:700;transform:scaleX(1.0400);">1,0</span>
<span class="t" style="left:1259.20px;top:1513.25px;font-size:18.31px;color:#212529;font-weight:700;transform:scaleX(1.1000);">±0</span>
<span class="t" style="left:1339.40px;top:1505.34px;font-size:27.66px;color:#212529;font-weight:700;transform:scaleX(1.0400);">1</span>
<span class="t" style="left:1423.91px;top:1505.34px;font-size:27.66px;color:#212529;font-weight:700;transform:scaleX(1.0400);">2689</span>
<span class="t" style="left:1551.50px;top:1513.25px;font-size:18.31px;color:#212529;transform:scaleX(0.9250);">+</span>
<span class="t" style="left:1569.00px;top:1513.25px;font-size:18.31px;color:#212529;font-weight:700;">0</span>
<span class="t" style="left:1626.25px;top:1505.34px;font-size:27.66px;color:#212529;font-weight:700;transform:scaleX(1.0400);">2811</span>
<span class="t" style="left:1765.16px;top:1505.34px;font-size:27.66px;color:#212529;font-weight:700;transform:scaleX(1.0400);">109</span>
<span class="t" style="left:1877.00px;top:1513.25px;font-size:18.31px;color:#212529;transform:scaleX(0.9000);">+</span>
<span class="t" style="left:1894.50px;top:1513.25px;font-size:18.31px;color:#212529;font-weight:700;">0</span>
<span class="t" style="left:976.45px;top:1565.09px;font-size:27.66px;color:#212529;font-weight:700;transform:scaleX(1.0548);">M-V</span>
<span class="t" style="left:1142.41px;top:1565.09px;font-size:27.66px;color:#3474e2;font-weight:700;transform:scaleX(1.0400);">4,6</span>
<span class="t" style="left:1246.76px;top:1573.00px;font-size:18.31px;color:#212529;font-weight:700;transform:scaleX(1.1000);">-0,2</span>
<span class="t" style="left:1322.36px;top:1565.09px;font-size:27.66px;color:#212529;font-weight:700;transform:scaleX(1.0400);">74</span>
<span class="t" style="left:1406.87px;top:1565.09px;font-size:27.66px;color:#212529;font-weight:700;transform:scaleX(1.0400);">44074</span>
<span class="t" style="left:1551.50px;top:1573.00px;font-size:18.31px;color:#212529;transform:scaleX(0.9250);">+</span>
<span class="t" style="left:1569.00px;top:1573.00px;font-size:18.31px;color:#212529;font-weight:700;">8</span>
<span class="t" style="left:1624.66px;top:1565.09px;font-size:27.66px;color:#212529;font-weight:700;transform:scaleX(1.0400);">2741</span>
<span class="t" style="left:1750.75px;top:1565.09px;font-size:27.66px;color:#212529;font-weight:700;transform:scaleX(1.0400);">1146</span>
<span class="t" style="left:1877.00px;top:1573.00px;font-size:18.31px;color:#212529;transform:scaleX(0.9000);">+</span>
<span class="t" style="left:1893.39px;top:1573.00px;font-size:18.31px;color:#212529;font-weight:700;transform:scaleX(1.1111);">1</span>
<span class="t" style="left:52.67px;top:1658.98px;font-size:25.42px;color:#212529;transform:scaleX(1.0770);">0 - 10</span>
<span class="t" style="left:178.92px;top:1658.98px;font-size:25.42px;color:#212529;transform:scaleX(1.0829);">&gt;10 - 35</span>
<span class="t" style="left:336.91px;top:1658.98px;font-size:25.42px;color:#212529;transform:scaleX(1.0856);">&gt;35 - 50</span>
<span class="t" style="left:495.41px;top:1658.98px;font-size:25.42px;color:#212529;transform:scaleX(1.0871);">&gt;50 - 100</span>
<span class="t" style="left:669.17px;top:1658.98px;font-size:25.42px;color:#212529;transform:scaleX(1.0800);">&gt;100 - 200</span>
<span class="t" style="left:855.92px;top:1658.98px;font-size:25.42px;color:#212529;transform:scaleX(1.0830);">&gt;200</span>
<span class="t" style="left:163.98px;top:1258.10px;font-size:49.5px;color:#000000;font-weight:700;transform:scaleX(1.0218);">2,5</span>
<span class="t" style="left:138.81px;top:1307.09px;font-size:18.2px;color:#000000;transform:scaleX(1.1917);">Nordwest-</span>
<span class="t" style="left:124.37px;top:1331.59px;font-size:18.2px;color:#000000;transform:scaleX(1.2317);">mecklenburg</span>
<span class="t" style="left:411.50px;top:1183.10px;font-size:49.5px;color:#000000;font-weight:700;transform:scaleX(0.9959);">2,4</span>
<span class="t" style="left:411.36px;top:1230.84px;font-size:18.2px;color:#000000;transform:scaleX(1.1432);">Rostock</span>
<span class="t" style="left:400.77px;top:1255.60px;font-size:49.5px;color:#000000;font-weight:700;transform:scaleX(0.9917);">1,9</span>
<span class="t" style="left:385.06px;top:1304.59px;font-size:18.2px;color:#000000;transform:scaleX(1.1895);">Landkreis</span>
<span class="t" style="left:393.84px;top:1329.59px;font-size:18.2px;color:#000000;transform:scaleX(1.1623);">Rostock</span>
<span class="t" style="left:273.22px;top:1349.85px;font-size:49.5px;color:#000000;font-weight:700;transform:scaleX(1.0112);">1,0</span>
<span class="t" style="left:264.50px;top:1400.59px;font-size:18.2px;color:#000000;transform:scaleX(1.1943);">Schwerin</span>
<span class="t" style="left:174.95px;top:1427.35px;font-size:49.5px;color:#000000;font-weight:700;transform:scaleX(1.0157);">10,9</span>
<span class="t" style="left:161.31px;top:1479.59px;font-size:18.2px;color:#000000;transform:scaleX(1.1871);">Ludwigslust-</span>
<span class="t" style="left:182.05px;top:1503.09px;font-size:18.2px;color:#000000;transform:scaleX(1.1967);">Parchim</span>
<span class="t" style="left:529.93px;top:1104.35px;font-size:49.5px;color:#000000;font-weight:700;transform:scaleX(1.0228);">1,3</span>
<span class="t" style="left:497.50px;top:1153.34px;font-size:18.2px;color:#000000;transform:scaleX(1.2487);">Vorpommern-</span>
<span class="t" style="left:534.06px;top:1176.59px;font-size:18.2px;color:#000000;transform:scaleX(1.1898);">Rügen</span>
<span class="t" style="left:675.48px;top:1203.10px;font-size:49.5px;color:#000000;font-weight:700;transform:scaleX(1.0184);">6,8</span>
<span class="t" style="left:646.50px;top:1254.09px;font-size:18.2px;color:#000000;transform:scaleX(1.2373);">Vorpommern-</span>
<span class="t" style="left:664.00px;top:1277.59px;font-size:18.2px;color:#000000;transform:scaleX(1.2029);">Greifswald</span>
<span class="t" style="left:574.95px;top:1358.60px;font-size:49.5px;color:#000000;font-weight:700;transform:scaleX(1.0263);">7,0</span>
<span class="t" style="left:519.81px;top:1410.09px;font-size:18.2px;color:#000000;transform:scaleX(1.1893);">Mecklenburgische</span>
<span class="t" style="left:555.25px;top:1433.84px;font-size:18.2px;color:#000000;transform:scaleX(1.1945);">Seenplatte</span>
</body></html>
